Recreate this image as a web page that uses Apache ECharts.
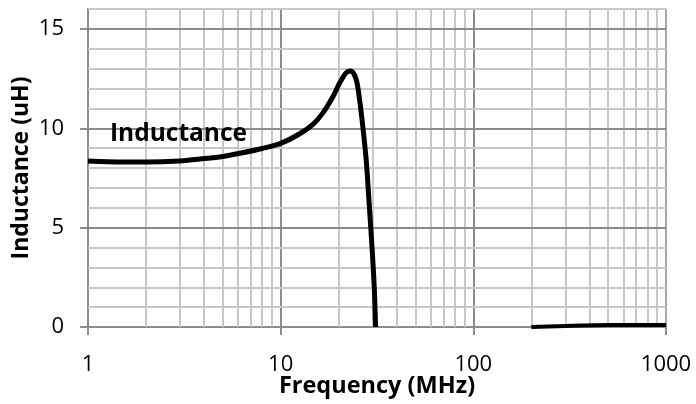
<!DOCTYPE html>
<html>
<head>
<meta charset="utf-8">
<script src="https://cdn.jsdelivr.net/npm/echarts@6/dist/echarts.min.js"></script>
<style>html,body{margin:0;padding:0;background:#fff;}#c{width:696px;height:404px;}</style>
</head>
<body>
<div id="c"></div>
<script>
// Main inductance curve (MHz, uH)
var freq = [1, 1.5, 2, 3, 3.8, 5, 6.15, 8, 10, 12.5, 14.7, 16.5, 18.7, 20.2, 21.9, 23.2, 24.7, 25.7, 26.7, 27.8, 28.8, 29.8, 30.6, 31.1];
var inductance = [8.35, 8.3, 8.3, 8.35, 8.45, 8.58, 8.74, 8.98, 9.24, 9.71, 10.2, 10.75, 11.6, 12.26, 12.8, 12.88, 12.43, 11.4, 10.08, 8.4, 6.2, 4.0, 2.0, 0];
// High-frequency tail
var freqTail = [200, 300, 500, 1000];
var inductanceTail = [0, 0.05, 0.1, 0.1];
// Gridlines
var minorFreq = [2,3,4,5,6,7,8,9,20,30,40,50,60,70,80,90,200,300,400,500,600,700,800,900];
var minorInd = [1,2,3,4,6,7,8,9,11,12,13,14,16];
var majorInd = [5, 10, 15];
// Tick labels
var yTicks = [0, 5, 10, 15];

var FONT = '"Open Sans", "Noto Sans", sans-serif';
var chart = echarts.init(document.getElementById('c'), null, {renderer: 'canvas'});
function pairs(xs, ys){ return xs.map(function(x,i){ return [x, ys[i]]; }); }

chart.setOption({
  backgroundColor: '#ffffff',
  animation: false,
  grid: {left: 88, right: 30, top: 9, bottom: 77, containLabel: false, outerBoundsMode: 'none'},
  xAxis: {
    type: 'log', logBase: 10, min: 1, max: 1000, splitNumber: 3,
    name: 'Frequency (MHz)', nameLocation: 'middle', nameGap: 47, nameMoveOverlap: false,
    nameTextStyle: {fontFamily: FONT, fontWeight: 'bold', fontSize: 23.5, color: '#000'},
    axisLine: {show: true, lineStyle: {color: '#8c8c8c', width: 2}},
    axisTick: {show: true, length: 8, lineStyle: {color: '#8c8c8c', width: 2}},
    axisLabel: {fontFamily: FONT, fontSize: 22, color: '#000', margin: 27,
      formatter: function(v){ return String(Math.round(v)); }},
    splitLine: {show: true, lineStyle: {color: ['#8c8c8c', '#8c8c8c', '#8c8c8c', '#a8a8a8'], width: 2}}
  },
  yAxis: {
    type: 'value', min: 0, max: 16,
    name: 'Inductance (uH)', nameLocation: 'middle', nameGap: 55, nameMoveOverlap: false,
    nameTextStyle: {fontFamily: FONT, fontWeight: 'bold', fontSize: 23, color: '#000'},
    axisLine: {show: true, lineStyle: {color: '#8c8c8c', width: 2}},
    axisTick: {show: true, length: 8, customValues: yTicks, lineStyle: {color: '#8c8c8c', width: 2}},
    axisLabel: {fontFamily: FONT, fontSize: 22, color: '#000', margin: 24, customValues: yTicks},
    splitLine: {show: false}
  },
  graphic: [{
    type: 'text', left: 110, top: 122, z: 10,
    style: {text: 'Inductance', fontFamily: FONT, fontWeight: 'bold', fontSize: 24.5, fill: '#000'}
  }],
  series: [
    {
      type: 'line', data: [], z: 1, silent: true,
      markLine: {
        silent: true, symbol: ['none', 'none'], label: {show: false},
        lineStyle: {color: '#c8c8c8', width: 2, type: 'solid'},
        emphasis: {disabled: true},
        data: minorFreq.map(function(f){ return {xAxis: f}; })
          .concat(minorInd.map(function(v){ return {yAxis: v}; }))
      }
    },
    {
      type: 'line', data: [], z: 2, silent: true,
      markLine: {
        silent: true, symbol: ['none', 'none'], label: {show: false},
        lineStyle: {color: '#8c8c8c', width: 2, type: 'solid'},
        emphasis: {disabled: true},
        data: majorInd.map(function(v){ return {yAxis: v}; })
      }
    },
    {
      type: 'line', data: pairs(freq, inductance), smooth: 0.3, showSymbol: false, z: 5,
      lineStyle: {color: '#000', width: 5}
    },
    {
      type: 'line', data: pairs(freqTail, inductanceTail), smooth: true, showSymbol: false, z: 5,
      lineStyle: {color: '#000', width: 4}
    }
  ]
});
</script>
</body>
</html>
